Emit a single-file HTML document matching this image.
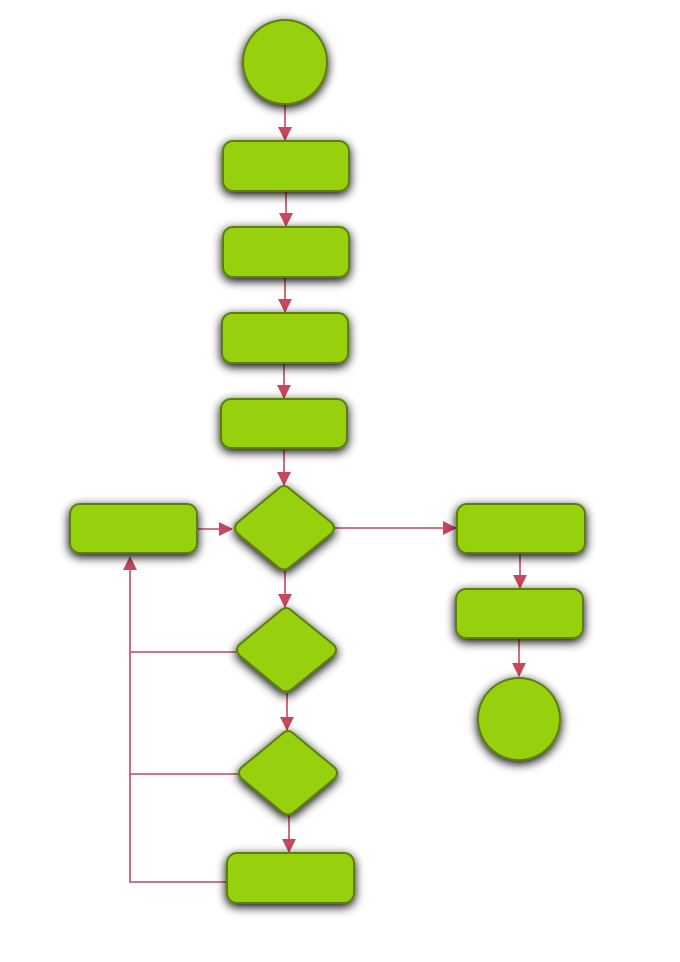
<!DOCTYPE html>
<html><head><meta charset="utf-8"><style>html,body{margin:0;padding:0;background:#fff;}svg{display:block}</style></head>
<body>
<svg width="680" height="962" viewBox="0 0 680 962" xmlns="http://www.w3.org/2000/svg">
<defs>
<filter id="sh" x="-30%" y="-30%" width="160%" height="170%">
<feGaussianBlur in="SourceAlpha" stdDeviation="5"/>
<feOffset dx="0" dy="3" result="b"/>
<feComponentTransfer><feFuncA type="linear" slope="1"/></feComponentTransfer>
<feMerge><feMergeNode/><feMergeNode in="SourceGraphic"/></feMerge>
</filter>
<marker id="ar" markerWidth="16" markerHeight="16" refX="13" refY="7" orient="auto" markerUnits="userSpaceOnUse">
<path d="M0,0 L14,7 L0,14 z" fill="#c9475c"/>
</marker>
</defs>
<g stroke="#c9475c" stroke-width="1.6" fill="none">
<line x1="285" y1="104" x2="285" y2="140" marker-end="url(#ar)"/>
<line x1="286" y1="192" x2="286" y2="226" marker-end="url(#ar)"/>
<line x1="285" y1="278" x2="285" y2="312" marker-end="url(#ar)"/>
<line x1="284" y1="364" x2="284" y2="398" marker-end="url(#ar)"/>
<line x1="284" y1="450" x2="284" y2="485" marker-end="url(#ar)"/>
<line x1="197" y1="529" x2="232" y2="529" marker-end="url(#ar)"/>
<line x1="335" y1="528" x2="456" y2="528" marker-end="url(#ar)"/>
<line x1="520" y1="554" x2="520" y2="588" marker-end="url(#ar)"/>
<line x1="519" y1="639" x2="519" y2="676" marker-end="url(#ar)"/>
<line x1="285" y1="571" x2="285" y2="607" marker-end="url(#ar)"/>
<line x1="287" y1="693" x2="287" y2="730" marker-end="url(#ar)"/>
<line x1="289" y1="815" x2="289" y2="852" marker-end="url(#ar)"/>
<polyline points="227,882 130,882 130,557" marker-end="url(#ar)"/>
<line x1="130" y1="652" x2="236" y2="652"/>
<line x1="130" y1="774" x2="238" y2="774"/>
</g>
<g fill="#97d111" stroke="#5b7f0b" stroke-width="2" filter="url(#sh)">
<circle cx="285" cy="62" r="42"/>
<rect x="223" y="141" width="126" height="50" rx="10"/>
<rect x="223" y="227" width="126" height="50" rx="10"/>
<rect x="222" y="313" width="126" height="50" rx="10"/>
<rect x="221" y="399" width="126" height="49" rx="10"/>
<path d="M284,486 Q287,486 290,489 L332,523 Q336,528 332,533 L290,567 Q284,572 278,567 L237,533 Q233,528 237,523 L278,489 Q281,486 284,486 z"/>
<path d="M286,608 Q289,608 292,611 L334,645 Q338,650 334,655 L292,689 Q286,694 280,689 L239,655 Q235,650 239,645 L280,611 Q283,608 286,608 z"/>
<path d="M288,731 Q291,731 294,734 L335,768 Q339,773 335,778 L294,812 Q288,817 282,812 L241,778 Q237,773 241,768 L282,734 Q285,731 288,731 z"/>
<rect x="70" y="504" width="127" height="49" rx="10"/>
<rect x="457" y="504" width="128" height="49" rx="10"/>
<rect x="456" y="589" width="127" height="49" rx="10"/>
<circle cx="519" cy="719" r="41"/>
<rect x="227" y="853" width="127" height="50" rx="10"/>
</g>
</svg>
</body></html>
